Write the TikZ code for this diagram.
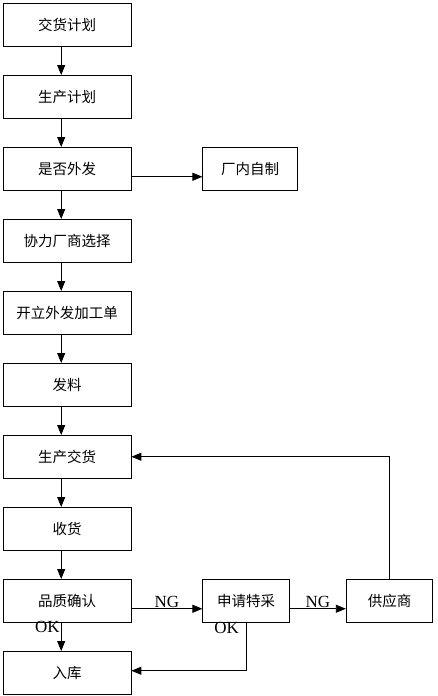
\documentclass[tikz,border=0pt]{standalone}
\usepackage{fontspec}
\setmainfont{Liberation Serif}
\newfontfamily\cjk{Noto Sans CJK SC}
\usetikzlibrary{arrows.meta, positioning}

\begin{document}
\begin{tikzpicture}[
  x=1pt, y=1pt,
  node distance=28.5pt and 71pt,
  box/.style={rectangle, draw=black, line width=0.9pt, fill=white, minimum width=127.5pt, minimum height=42.6pt, inner sep=2pt, font=\cjk\fontsize{14.5pt}{16pt}\selectfont},
  sideBox/.style={box, minimum width=#1},
  arrow/.style={-{Triangle[length=10pt, width=8pt]}, line width=0.9pt},
  tagLabel/.style={font=\fontsize{17pt}{19pt}\selectfont, inner sep=1pt},
]
\useasboundingbox (0,0) rectangle (437,-696);

% ------------------- Main column -------------------
\node[box, anchor=north west] (plan) at (3,-3) {交货计划};
\node[box, below=of plan] (prodplan) {生产计划};
\node[box, below=of prodplan] (outsrc) {是否外发};
\node[box, below=of outsrc] (vendorsel) {协力厂商选择};
\node[box, below=of vendorsel] (order) {开立外发加工单};
\node[box, below=of order] (issue) {发料};
\node[box, below=of issue] (proddeliv) {生产交货};
\node[box, below=of proddeliv] (receive) {收货};
\node[box, below=of receive] (quality) {品质确认};
\node[box, below=of quality] (store) {入库};

% ------------------- Side boxes -------------------
\node[sideBox=94.5pt, right=of outsrc] (inhouse) {厂内自制};
\node[sideBox=86.5pt, right=of quality] (apply) {申请特采};
\node[sideBox=86.5pt, right=56pt of apply] (supplier) {供应商};

% Arrows down the main column
\foreach \a/\b in {plan/prodplan, prodplan/outsrc, outsrc/vendorsel, vendorsel/order,
                   order/issue, issue/proddeliv, proddeliv/receive, receive/quality}
  \draw[arrow] ([xshift=-6pt]\a.south) -- ([xshift=-6pt]\b.north);
\draw[arrow] ([xshift=-6pt]quality.south) -- node[tagLabel, pos=0.15, left=0pt]{OK} ([xshift=-6pt]store.north);

% Branches
\draw[arrow] ([yshift=-8pt]outsrc.east) -- ([yshift=-8pt]inhouse.west);
\draw[arrow] ([yshift=-8pt]quality.east) -- node[tagLabel, above=0pt]{NG} ([yshift=-8pt]apply.west);
\draw[arrow] ([yshift=-8pt]apply.east) -- node[tagLabel, above=0pt]{NG} ([yshift=-8pt]supplier.west);
\draw[arrow] (apply.south) |- ([yshift=2pt]store.east);
\node[tagLabel, anchor=north east] (okApply) at ([xshift=-6pt, yshift=1pt]apply.south) {OK};

% Supplier back to production
\draw[arrow] (supplier.north) |- (proddeliv.east);

\end{tikzpicture}
\end{document}
